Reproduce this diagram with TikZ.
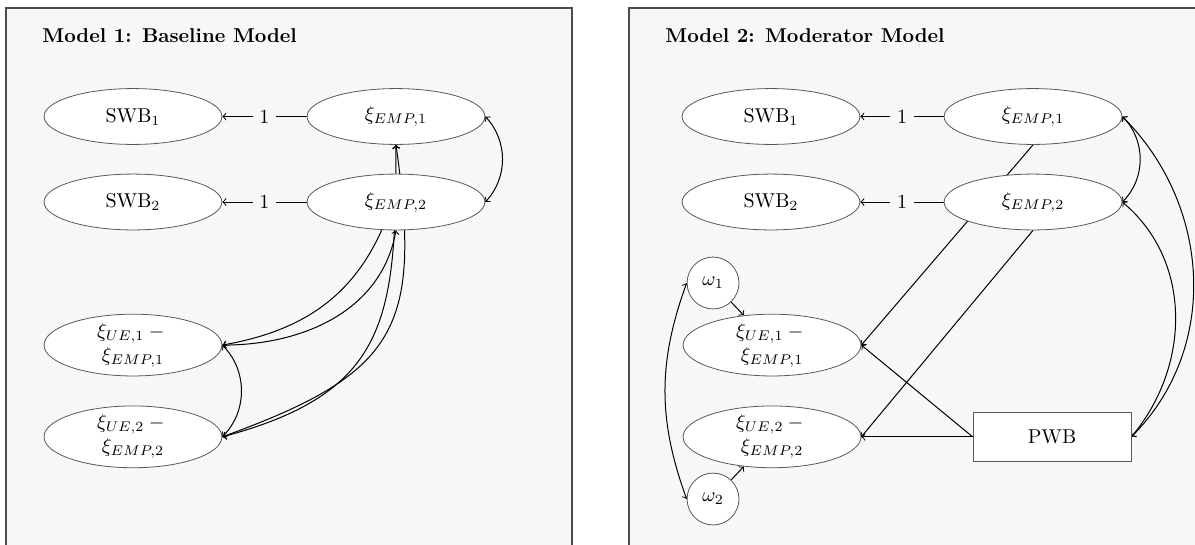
\documentclass[tikz,border=0pt]{standalone}
\usetikzlibrary{shapes.geometric}
\pgfdeclarelayer{frame}
\pgfdeclarelayer{edges}
\pgfsetlayers{frame,edges,main}

\tikzset{
  panel/.style={draw=black!70,fill=black!3,line width=0.6pt},
  paneltitle/.style={anchor=base west,font=\bfseries},
  latent/.style={ellipse,draw=black!65,fill=white,minimum width=3.12cm,minimum height=0.98cm,inner sep=0pt},
  diff/.style={latent,align=center,minimum height=1.05cm},
  resid/.style={circle,draw=black!65,fill=white,minimum size=0.91cm,inner sep=0pt},
  observed/.style={rectangle,draw=black!65,fill=white,minimum width=2.77cm,minimum height=0.86cm},
  conn/.style={line width=0.5pt},
  loadlbl/.style={fill=black!3}
}

\begin{document}
\begin{tikzpicture}

	\useasboundingbox (0,0) rectangle (20.965,9.544);

	%\draw[step=1cm,gray,very thin] (0,0) grid (21,9.5);

	\begin{pgfonlayer}{frame}
	    \draw[panel] (0.105,9.404) rectangle (10.035,-0.5);
	    \draw[panel] (11.035,9.404) rectangle (22,-0.5);
	\end{pgfonlayer}

	% Model 1
	\node[paneltitle] (titlea) at (0.62,8.80) {Model 1: Baseline Model};

	\node[latent] (swb1a) at (2.333,7.5) {SWB$_1$};
	\node[latent] (emp1a) at (6.947,7.5) {$\xi_{EMP,1}$};
	\node[latent] (swb2a) at (2.333,6.0) {SWB$_2$};
	\node[latent] (emp2a) at (6.947,6.0) {$\xi_{EMP,2}$};

	\node[diff] (ue1a) at (2.333,3.49) {$\xi_{UE,1} -{}$\\ $\xi_{EMP,1}$};
	\node[diff] (ue2a) at (2.333,1.88) {$\xi_{UE,2} -{}$\\ $\xi_{EMP,2}$};

	\begin{pgfonlayer}{edges}
	    \draw[conn,->] (emp1a) -- node[loadlbl] {1} (swb1a);
	    \draw[conn,->] (emp2a) -- node[loadlbl] {1} (swb2a);
	    \draw[conn,<->] (emp1a.east) to[bend left=43] (emp2a.east);
	    \draw[conn,<->] (ue1a.east) to[bend left=45] (ue2a.east);

	    \draw[conn,->] (emp2a.-117) to[out=-114,in=10] (ue1a.east);
	    \draw[conn,<->] (emp2a.south) to[out=-100,in=0] (ue1a.east);
	    \draw[conn,<->] (emp1a.south) to[out=-90,in=15,looseness=1.3] (ue2a.east);
	    \draw[conn,<->] (emp1a.south) to[out=-82,in=20,looseness=1.4] (ue2a.east);
	\end{pgfonlayer}

	% Model 2
	\node[paneltitle] (titleb) at (11.55,8.80) {Model 2: Moderator Model};

	\node[latent] (swb1b) at (13.526,7.5) {SWB$_1$};
	\node[latent] (emp1b) at (18.123,7.5) {$\xi_{EMP,1}$};
	\node[latent] (swb2b) at (13.526,6.0) {SWB$_2$};
	\node[latent] (emp2b) at (18.123,6.0) {$\xi_{EMP,2}$};

	\node[diff] (ue1b) at (13.544,3.49) {$\xi_{UE,1} -{}$\\ $\xi_{EMP,1}$};
	\node[diff] (ue2b) at (13.544,1.88) {$\xi_{UE,2} -{}$\\ $\xi_{EMP,2}$};

	\node[resid] (w1) at (12.509,4.579) {$\omega_1$};
	\node[resid] (w2) at (12.509,0.789) {$\omega_2$};

	\node[observed] (pwb) at (18.456,1.88) {PWB};

	\begin{pgfonlayer}{edges}
	    \draw[conn,->] (emp1b) -- node[loadlbl] {1} (swb1b);
	    \draw[conn,->] (emp2b) -- node[loadlbl] {1} (swb2b);
	    \draw[conn,<->] (emp1b.east) to[bend left=45] (emp2b.east);
	    \draw[conn,<->] (emp1b.east) to[out=-45,in=45] (pwb.east);
	    \draw[conn,<->] (emp2b.east) to[out=-40,in=50] (pwb.east);

	    \draw[conn,->] (emp1b.south) -- (ue1b.east);
	    \draw[conn,->] (emp2b.south) -- (ue2b.east);
	    \draw[conn,->] (pwb.west) -- (ue1b.east);
	    \draw[conn,->] (pwb.west) -- (ue2b.east);

	    \draw[conn,->] (w1) -- (ue1b);
	    \draw[conn,->] (w2) -- (ue2b);
	    \draw[conn,<->] (w1.west) to[bend right=20] (w2.west);
	\end{pgfonlayer}

\end{tikzpicture}
\end{document}
